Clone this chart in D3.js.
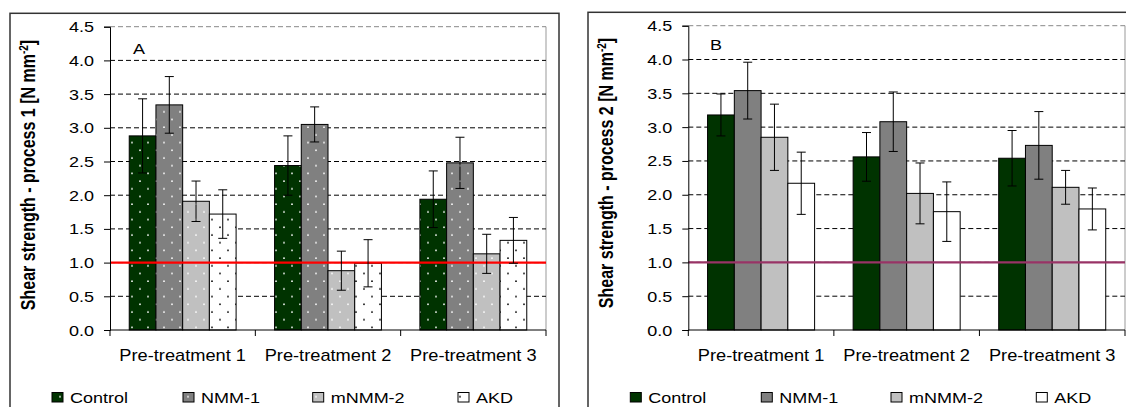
<!DOCTYPE html>
<html>
<head>
<meta charset="utf-8">
<script src="https://cdn.jsdelivr.net/npm/d3@7"></script>
<style>
  html, body { margin: 0; padding: 0; background: #fff; }
  svg { display: block; font-family: "Liberation Sans", Arial, sans-serif; }
</style>
</head>
<body>
<svg id="chart" width="1126" height="407"></svg>
<script>
// ---------------- DATA ----------------
const categories = ["Pre-treatment 1", "Pre-treatment 2", "Pre-treatment 3"];
const seriesNames = ["Control", "NMM-1", "mNMM-2", "AKD"];
const yTicks = [0.0, 0.5, 1.0, 1.5, 2.0, 2.5, 3.0, 3.5, 4.0, 4.5];
const threshold = 1.0;

// Process 1 (panel A): mean values and error (+/-)
const p1Control = [2.88, 2.44, 1.94];
const p1Nmm1    = [3.34, 3.05, 2.48];
const p1Mnmm2   = [1.91, 0.88, 1.13];
const p1Akd     = [1.72, 0.99, 1.33];
const p1ControlErr = [0.55, 0.44, 0.42];
const p1Nmm1Err    = [0.42, 0.26, 0.38];
const p1Mnmm2Err   = [0.30, 0.29, 0.29];
const p1AkdErr     = [0.36, 0.35, 0.34];

// Process 2 (panel B)
const p2Control = [3.18, 2.56, 2.54];
const p2Nmm1    = [3.54, 3.08, 2.73];
const p2Mnmm2   = [2.85, 2.02, 2.11];
const p2Akd     = [2.17, 1.75, 1.79];
const p2ControlErr = [0.31, 0.36, 0.41];
const p2Nmm1Err    = [0.42, 0.44, 0.50];
const p2Mnmm2Err   = [0.49, 0.45, 0.25];
const p2AkdErr     = [0.46, 0.44, 0.31];

// ---------------- STYLE ----------------
const fills = ["#003300", "#808080", "#c0c0c0", "#ffffff"];
const dotColors = ["#ffffff", "#ffffff", "#ffffff", "#000000"];

const svg = d3.select("#chart");
const defs = svg.append("defs");

// dotted patterns for panel A
fills.forEach((f, i) => {
  const p = defs.append("pattern")
    .attr("id", "pat" + i)
    .attr("patternUnits", "userSpaceOnUse")
    .attr("width", 16).attr("height", 15.4);
  p.append("rect").attr("width", 16).attr("height", 15.4).attr("fill", f);
  p.append("circle").attr("cx", 4).attr("cy", 4).attr("r", 0.9).attr("fill", dotColors[i]);
  p.append("circle").attr("cx", 12).attr("cy", 11.7).attr("r", 0.9).attr("fill", dotColors[i]);
});

function stext(g, x, y, str, size, sx, anchor, weight) {
  return g.append("text")
    .attr("transform", `translate(${x},${y}) scale(${sx},1)`)
    .attr("text-anchor", anchor || "start")
    .attr("font-size", size)
    .attr("font-weight", weight || "normal")
    .attr("fill", "#000")
    .text(str);
}

function drawPanel(cfg) {
  const g = svg.append("g");

  // outer frame
  g.append("rect")
    .attr("x", cfg.frame[0]).attr("y", cfg.frame[1])
    .attr("width", cfg.frame[2] - cfg.frame[0]).attr("height", 420 - cfg.frame[1])
    .attr("fill", "none").attr("stroke", "#333").attr("stroke-width", 1.5);

  const L = cfg.plot.left, R = cfg.plot.right, T = cfg.plot.top, B = cfg.plot.bottom;

  const x = d3.scaleBand().domain(categories).range([L, R]).paddingInner(0).paddingOuter(0);
  const xs = d3.scaleBand().domain(seriesNames).range([0, x.bandwidth()]).paddingInner(0).paddingOuter(0.72);
  const y = d3.scaleLinear().domain([0, 4.5]).range([B, T]);

  // plot area right border
  g.append("line").attr("x1", R).attr("x2", R).attr("y1", T).attr("y2", B)
    .attr("stroke", "#999").attr("stroke-width", 1);

  // gridlines
  g.append("g").selectAll("line").data(yTicks.filter(t => t > 0))
    .join("line")
    .attr("x1", L).attr("x2", R)
    .attr("y1", d => y(d)).attr("y2", d => y(d))
    .attr("stroke", d => d === 4.5 ? "#888" : "#000")
    .attr("stroke-width", 1)
    .attr("stroke-dasharray", "5,3");

  // bars
  const series = cfg.values.map((vals, si) => ({ name: seriesNames[si], si, vals, errs: cfg.errs[si] }));
  const pts = [];
  series.forEach(s => s.vals.forEach((v, ci) => pts.push({ cat: categories[ci], si: s.si, name: s.name, v, e: s.errs[ci] })));

  g.append("g").selectAll("rect").data(pts).join("rect")
    .attr("x", d => x(d.cat) + xs(d.name))
    .attr("y", d => y(d.v))
    .attr("width", xs.bandwidth())
    .attr("height", d => y(0) - y(d.v))
    .attr("fill", d => cfg.patterned ? `url(#pat${d.si})` : fills[d.si])
    .attr("stroke", "#000").attr("stroke-width", 1);

  // threshold line
  g.append("line")
    .attr("x1", L).attr("x2", R)
    .attr("y1", y(threshold)).attr("y2", y(threshold))
    .attr("stroke", cfg.lineColor).attr("stroke-width", 2.2);

  // error bars
  const eb = g.append("g").attr("stroke", "#000").attr("stroke-width", 1);
  pts.forEach(d => {
    const cx = x(d.cat) + xs(d.name) + xs.bandwidth() / 2;
    eb.append("line").attr("x1", cx).attr("x2", cx).attr("y1", y(d.v + d.e)).attr("y2", y(d.v - d.e));
    eb.append("line").attr("x1", cx - 4.5).attr("x2", cx + 4.5).attr("y1", y(d.v + d.e)).attr("y2", y(d.v + d.e));
    eb.append("line").attr("x1", cx - 4.5).attr("x2", cx + 4.5).attr("y1", y(d.v - d.e)).attr("y2", y(d.v - d.e));
  });

  // y axis
  const yAxis = d3.axisLeft(y).tickValues(yTicks).tickSize(6).tickFormat("");
  const ya = g.append("g").attr("transform", `translate(${L},0)`).call(yAxis);
  ya.select(".domain").attr("stroke", "#000");
  ya.selectAll(".tick line").attr("stroke", "#000");
  yTicks.forEach(t => stext(g, L - 16, y(t) + 5.5, d3.format(".1f")(t), 15, 1.2, "end"));

  // x axis
  const xa = g.append("g").attr("transform", `translate(0,${B})`)
    .call(d3.axisBottom(x).tickSize(0).tickFormat(""));
  xa.select(".domain").attr("stroke", "#000").attr("d", `M${L},0H${R}`);
  const edges = categories.map(c => x(c)).concat([R]);
  g.append("g").selectAll("line").data(edges).join("line")
    .attr("x1", d => d).attr("x2", d => d).attr("y1", B).attr("y2", B + 6)
    .attr("stroke", "#000");
  categories.forEach(c => stext(g, x(c) + x.bandwidth() / 2, 360.5, c, 16, 1.14, "middle"));

  // panel letter
  stext(g, cfg.letterPos[0], cfg.letterPos[1], cfg.letter, 15, 1.2, "start");

  // y title
  const tt = g.append("text")
    .attr("transform", `translate(${cfg.titleX},${cfg.titleY}) scale(1.25,1) rotate(-90)`)
    .attr("text-anchor", "middle")
    .attr("font-size", 16).attr("font-weight", "bold").attr("fill", "#000");
  tt.append("tspan").text(cfg.title);
  tt.append("tspan").attr("font-size", 10).attr("dy", -6).text("-2");
  tt.append("tspan").attr("dy", 6).text("]");

  // legend
  const legOff = [-58, 73, 202.7, 348];
  seriesNames.forEach((s, i) => {
    const lx = L + legOff[i];
    g.append("rect").attr("x", lx).attr("y", 392.5).attr("width", 11).attr("height", 9.5)
      .attr("fill", cfg.patterned ? `url(#pat${i})` : fills[i])
      .attr("stroke", "#000").attr("stroke-width", 1);
    stext(g, lx + 18, 402.5, s, 15, 1.2, "start");
  });
}

drawPanel({
  frame: [10, 13.3, 559],
  plot: { left: 110, right: 546, top: 26.7, bottom: 330 },
  values: [p1Control, p1Nmm1, p1Mnmm2, p1Akd],
  errs: [p1ControlErr, p1Nmm1Err, p1Mnmm2Err, p1AkdErr],
  patterned: true,
  lineColor: "#ff0000",
  title: "Shear strength - process 1 [N mm",
  titleX: 35, titleY: 175,
  letter: "A", letterPos: [133, 53.5]
});

drawPanel({
  frame: [588, 12.3, 1140],
  plot: { left: 688.3, right: 1125, top: 25.7, bottom: 330 },
  values: [p2Control, p2Nmm1, p2Mnmm2, p2Akd],
  errs: [p2ControlErr, p2Nmm1Err, p2Mnmm2Err, p2AkdErr],
  patterned: false,
  lineColor: "#993366",
  title: "Shear strength - process 2 [N mm",
  titleX: 613, titleY: 173,
  letter: "B", letterPos: [710, 49.5]
});
</script>
</body>
</html>
